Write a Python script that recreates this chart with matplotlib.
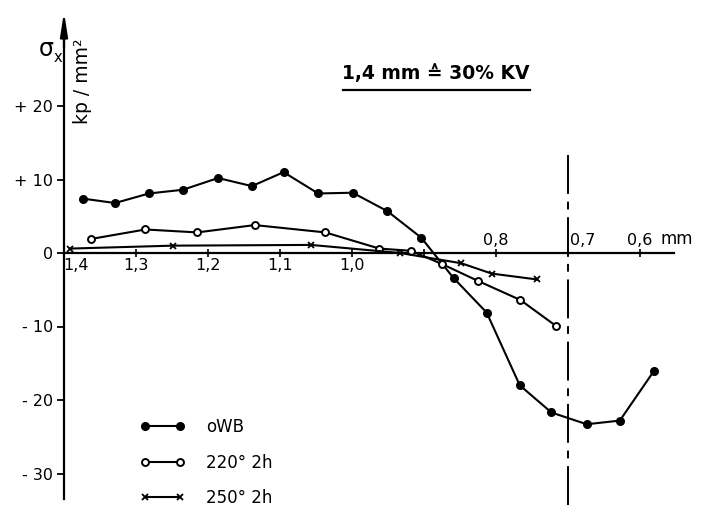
import matplotlib
matplotlib.use("Agg")
import matplotlib.pyplot as plt

plt.rcParams['font.family'] = ['DejaVu Sans']

# depth below surface (mm) and residual stress sigma_x (kp/mm^2)
owb_x = [1.374, 1.329, 1.282, 1.235, 1.186, 1.139, 1.095, 1.047, 0.999,
         0.951, 0.904, 0.859, 0.813, 0.767, 0.723, 0.674, 0.628, 0.581]
owb_y = [7.4, 6.8, 8.1, 8.6, 10.2, 9.1, 11.0, 8.1, 8.2,
         5.7, 2.1, -3.4, -8.1, -18.0, -21.7, -23.3, -22.8, -16.1]

t220_x = [1.363, 1.287, 1.215, 1.135, 1.037, 0.962, 0.918, 0.875, 0.825, 0.766, 0.717]
t220_y = [1.9, 3.2, 2.8, 3.8, 2.8, 0.6, 0.3, -1.5, -3.8, -6.4, -9.9]

t250_x = [1.392, 1.249, 1.057, 0.933, 0.848, 0.806, 0.743]
t250_y = [0.6, 1.0, 1.1, 0.0, -1.4, -2.8, -3.6]

series_labels = ['oWB', '220° 2h', '250° 2h']

y_ticks = [20, 10, 0, -10, -20, -30]
y_tick_labels = ['+ 20', '+ 10', '0', '- 10', '- 20', '- 30']
x_ticks = [1.4, 1.3, 1.2, 1.1, 1.0, 0.9, 0.8, 0.7, 0.6]
x_labels_below = {1.4: '1,4', 1.3: '1,3', 1.2: '1,2', 1.1: '1,1', 1.0: '1,0'}
x_labels_above = {0.8: '0,8', 0.7: '0,7', 0.6: '0,6'}
marker_depth = 0.7

W, H = 708, 508
fig = plt.figure(figsize=(W / 100, H / 100), dpi=100)
ax = fig.add_axes([0, 0, 1, 1])
ax.set_facecolor('white')

# pixel mapping: x=1.4 at 64 px, 720 px per mm; y=0 at 253 px, 7.35 px per unit
ax.set_xlim(1.4 + 64 / 720, 1.4 - (W - 64) / 720)
ax.set_ylim((253 - H) / 7.35, 253 / 7.35)

lw = 1.5
ax.plot(owb_x, owb_y, color='black', lw=lw, marker='o', ms=5.5,
        mfc='black', mec='black', label=series_labels[0], zorder=4)
ax.plot(t220_x, t220_y, color='black', lw=lw, marker='o', ms=5,
        mfc='white', mec='black', mew=1.4, label=series_labels[1], zorder=4)
ax.plot(t250_x, t250_y, color='black', lw=lw, marker='x', ms=4.5,
        mew=1.3, label=series_labels[2], zorder=4)

# dash-dot marker line at 0.7 mm
ax.plot([marker_depth, marker_depth], [13.3, -34.3], color='black', lw=1.4,
        dashes=(20, 4, 4, 4), zorder=3)

# axes
for s in ['top', 'right']:
    ax.spines[s].set_visible(False)
ax.spines['left'].set_position(('data', 1.4))
ax.spines['left'].set_bounds(-33.5, 31.0)
ax.spines['bottom'].set_position(('data', 0))
ax.spines['bottom'].set_bounds(1.4, 0.553)
for s in ['left', 'bottom']:
    ax.spines[s].set_linewidth(1.6)
    ax.spines[s].set_zorder(2)

ax.annotate('', xy=(1.4, 32.8), xytext=(1.4, 28.0),
            arrowprops=dict(arrowstyle='-|>,head_length=1.4,head_width=0.22',
                            lw=1.6, color='black', shrinkA=0, shrinkB=0))

ax.set_yticks(y_ticks)
ax.set_yticklabels(y_tick_labels)
ax.tick_params(axis='y', direction='out', length=5, width=1.3, pad=3,
               labelsize=11.5)
ax.set_xticks(x_ticks)
ax.set_xticklabels([])
ax.tick_params(axis='x', direction='inout', length=6, width=1.2)

for v, t in x_labels_below.items():
    dx = 9 if v == 1.4 else 0
    ax.annotate(t, (v, 0), xytext=(dx, -3.5), textcoords='offset points',
                ha='center', va='top', fontsize=11.5)
for v, t in x_labels_above.items():
    if v == 0.7:
        ax.annotate(t, (v, 0), xytext=(1.5, 3.5), textcoords='offset points',
                    ha='left', va='bottom', fontsize=11.5)
    else:
        ax.annotate(t, (v, 0), xytext=(0, 3.5), textcoords='offset points',
                    ha='center', va='bottom', fontsize=11.5)
ax.annotate('mm', (0.6, 0), xytext=(14.5, 3.5), textcoords='offset points',
            ha='left', va='bottom', fontsize=12)

# axis title
fig.text(46 / W, 1 - 49 / H, 'σ', fontsize=17, ha='center', va='center')
fig.text(58 / W, 1 - 58 / H, 'x', fontsize=10.5, ha='center', va='center')
fig.text(82 / W, 1 - 81 / H, 'kp / mm²', fontsize=13.5, rotation=90,
         ha='center', va='center')

# heading with underline
fig.text(436 / W, 1 - 73 / H, '1,4 mm ≙ 30% KV', fontsize=13.5,
         fontweight='bold', ha='center', va='center')
fig.add_artist(plt.Line2D([343 / W, 530 / W], [1 - 90 / H, 1 - 90 / H],
                          color='black', lw=1.6))

leg = ax.legend(loc='lower left', bbox_to_anchor=(140 / W, 1 / H),
                bbox_transform=fig.transFigure, frameon=False, numpoints=2,
                fontsize=12, handlelength=2.7, handletextpad=1.25,
                labelspacing=1.05, borderpad=0, borderaxespad=0)

fig.savefig('out.png', dpi=100, facecolor='white')
